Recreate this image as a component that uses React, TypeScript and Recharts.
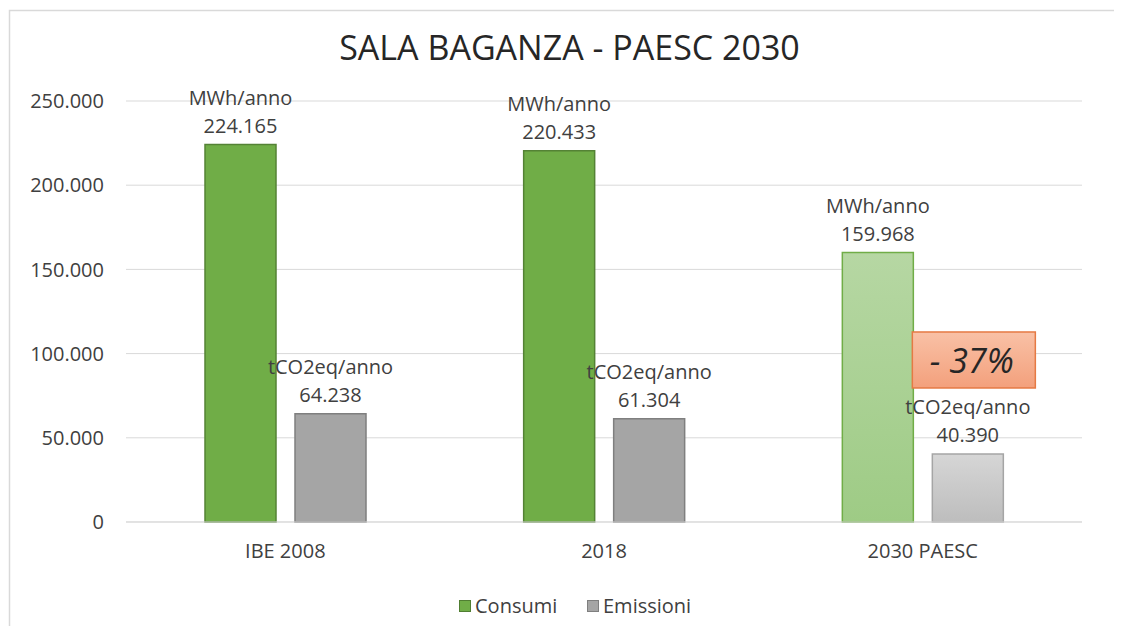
import React from 'react';
import { BarChart, Bar, XAxis, YAxis, CartesianGrid, Legend, LabelList, Cell } from 'recharts';

const categories = ['IBE 2008', '2018', '2030 PAESC'];
const consumi = [224165, 220433, 159968];
const emissioni = [64238, 61304, 40390];
const yTicks = [0, 50000, 100000, 150000, 200000, 250000];
const seriesNames = ['Consumi', 'Emissioni'];
const consumiUnit = 'MWh/anno';
const emissioniUnit = 'tCO2eq/anno';
const reductionLabel = '- 37%';
const title = 'SALA BAGANZA - PAESC 2030';

const data = categories.map((c, i) => ({ name: c, consumi: consumi[i], emissioni: emissioni[i] }));

const W = 1114;
const H = 618;
const FONT = '"Open Sans", sans-serif';
const TXT = '#404040';

const fmt = (v: number) => String(Math.round(v)).replace(/\B(?=(\d{3})+(?!\d))/g, '.');

const makeLabel = (unit: string, withBox: boolean) => (props: any) => {
  const { x, y, width, value, index } = props;
  const cx = Number(x) + Number(width) / 2;
  const top = Number(y);
  return (
    <g>
      <text x={cx} y={top - 40} textAnchor="middle" fontSize={20} fill={TXT} fontFamily={FONT}>{unit}</text>
      <text x={cx} y={top - 12} textAnchor="middle" fontSize={20} fill={TXT} fontFamily={FONT}>{fmt(Number(value))}</text>
      {withBox && index === 2 ? (
        <g>
          <rect x={Number(x) - 20} y={top - 122} width={123} height={56} fill="url(#gBox)" stroke="#e57a44" strokeWidth={1.5} />
          <text x={Number(x) - 20 + 59.5} y={top - 122 + 41} textAnchor="middle" fontSize={34} fontStyle="italic" fill="#262626" fontFamily={FONT}>{reductionLabel}</text>
        </g>
      ) : null}
    </g>
  );
};

const LegendContent = () => (
  <div style={{ position: 'relative', width: W, height: 40, fontFamily: FONT, fontSize: 20, color: TXT }}>
    <div style={{ position: 'absolute', left: 451, top: 14, width: 10, height: 10, background: '#70ad47', border: '1px solid #507e32' }} />
    <div style={{ position: 'absolute', left: 467, top: 5, lineHeight: '30px' }}>{seriesNames[0]}</div>
    <div style={{ position: 'absolute', left: 579, top: 14, width: 10, height: 10, background: '#a5a5a5', border: '1px solid #7f7f7f' }} />
    <div style={{ position: 'absolute', left: 595, top: 5, lineHeight: '30px' }}>{seriesNames[1]}</div>
  </div>
);

export default function App() {
  return (
    <div style={{ position: 'relative', width: W, height: H, fontFamily: FONT, background: '#fff' }}>
      <svg width={0} height={0} style={{ position: 'absolute' }}>
        <defs>
          <linearGradient id="gGreen" x1="0" y1="0" x2="0" y2="1">
            <stop offset="0%" stopColor="#b6d7a3" />
            <stop offset="100%" stopColor="#9ecb85" />
          </linearGradient>
          <linearGradient id="gGray" x1="0" y1="0" x2="0" y2="1">
            <stop offset="0%" stopColor="#d6d6d6" />
            <stop offset="100%" stopColor="#bdbdbd" />
          </linearGradient>
          <linearGradient id="gBox" x1="0" y1="0" x2="0" y2="1">
            <stop offset="0%" stopColor="#f9c1a6" />
            <stop offset="100%" stopColor="#f3a07c" />
          </linearGradient>
        </defs>
      </svg>
      <BarChart
        width={W}
        height={H}
        data={data}
        margin={{ top: 93, right: 40, left: 0, bottom: 0 }}
        barSize={71}
        barGap={19}
      >
        <CartesianGrid vertical={false} stroke="#d9d9d9" strokeWidth={1} />
        <XAxis
          dataKey="name"
          height={64}
          axisLine={{ stroke: '#d9d9d9' }}
          tickLine={false}
          tickMargin={16}
          tick={{ fill: TXT, fontSize: 20, fontFamily: FONT }}
        />
        <YAxis
          width={118}
          domain={[0, 250000]}
          ticks={yTicks}
          tickFormatter={fmt}
          axisLine={false}
          tickLine={false}
          tickMargin={16}
          tick={{ fill: TXT, fontSize: 20, fontFamily: FONT }}
        />
        <Legend verticalAlign="bottom" height={40} wrapperStyle={{ left: 0, width: W }} content={LegendContent} />
        <Bar dataKey="consumi" name={seriesNames[0]} isAnimationActive={false}>
          {data.map((d, i) => (
            <Cell key={d.name} fill={i === 2 ? 'url(#gGreen)' : '#70ad47'} stroke={i === 2 ? '#70ad47' : '#548235'} strokeWidth={1.5} />
          ))}
          <LabelList dataKey="consumi" content={makeLabel(consumiUnit, false)} />
        </Bar>
        <Bar dataKey="emissioni" name={seriesNames[1]} isAnimationActive={false}>
          {data.map((d, i) => (
            <Cell key={d.name} fill={i === 2 ? 'url(#gGray)' : '#a5a5a5'} stroke={i === 2 ? '#a5a5a5' : '#7f7f7f'} strokeWidth={1.5} />
          ))}
          <LabelList dataKey="emissioni" content={makeLabel(emissioniUnit, true)} />
        </Bar>
      </BarChart>
      <svg width={W} height={H} style={{ position: 'absolute', left: 0, top: 0, pointerEvents: 'none' }}>
        <path d={`M1.5 ${H} V2.5 H${W}`} fill="none" stroke="#d9d9d9" strokeWidth={1.5} />
        <text x={561.5} y={52} textAnchor="middle" fontSize={34} fill="#262626" fontFamily={FONT}>{title}</text>
      </svg>
    </div>
  );
}
